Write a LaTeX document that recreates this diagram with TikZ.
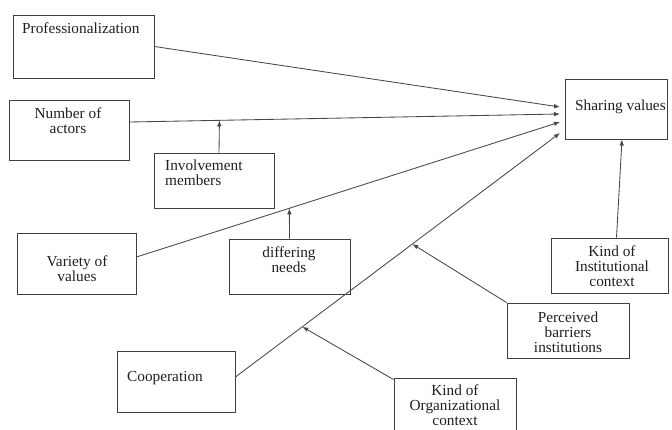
\documentclass[tikz,border=0pt]{standalone}
\usepackage{fontspec}
\setmainfont{Liberation Serif}
\usetikzlibrary{arrows.meta,fit}
\begin{document}
\begin{tikzpicture}[x=1pt,y=-1pt,
  box/.style={draw=black!75, line width=0.9pt, inner sep=0pt},
  txt/.style={text=black!88, font=\fontsize{15.3pt}{15pt}\selectfont, inner sep=0pt, align=center},
  arr/.style={draw=black!72, line width=0.85pt, -{Latex[length=6pt,width=4.5pt]}}]
\useasboundingbox (0,0) rectangle (672,429);
\clip (0,0) rectangle (672,429);

% boxes
\node[box, fit={(13,15) (154,78)}] (prof) {};
\node[box, fit={(9,100) (129,160)}] (num) {};
\node[box, fit={(154,153) (274,208)}] (inv) {};
\node[box, fit={(565,79) (667,139)}] (share) {};
\node[box, fit={(17,233) (136,294)}] (var) {};
\node[box, fit={(229,239) (350,294)}] (diff) {};
\node[box, fit={(117,351) (235,412)}] (coop) {};
\node[box, fit={(551,238) (668,293)}] (inst) {};
\node[box, fit={(507,303) (629,358)}] (perc) {};
\node[box, fit={(394,378) (516,440)}] (org) {};

% labels
\node[txt, anchor=west] (profT) at (22,28) {Professionalization};
\node[txt] (numT) at (68,121) {Number of\\actors};
\node[txt, anchor=west, align=left] (invT) at (165,173) {Involvement\\members};
\node[txt, anchor=west] (shareT) at (575,107) {Sharing values};
\node[txt] (varT) at (77,269) {Variety of\\values};
\node[txt] (diffT) at (289,260) {differing\\needs};
\node[txt, anchor=west] (coopT) at (127,378) {Cooperation};
\node[txt] (instT) at (612,266) {Kind of\\Institutional\\context};
\node[txt] (percT) at (568,332) {Perceived\\barriers\\institutions};
\node[txt] (orgT) at (455,405) {Kind of\\Organizational\\context};

% entry points at the left side of the outcome box
\coordinate (in1) at (560,107);
\coordinate (in2) at (560,114);
\coordinate (in3) at (560,122);
\coordinate (in4) at (560,133);

% direct effects
\draw[arr] (prof.east) -- (in1);
\draw[arr] ([yshift=8pt]num.east) -- coordinate[pos=0.209] (m1) (in2);
\draw[arr] ([yshift=6.5pt]var.east) -- coordinate[pos=0.361] (m2) (in3);
\draw[arr] ([yshift=4.5pt]coop.east) -- coordinate[pos=0.206] (m3) coordinate[pos=0.545] (m4) (in4);
\draw[arr] ([xshift=7pt]inst.north) -- ([xshift=6pt]share.south);

% moderating effects
\draw[arr] ([xshift=5pt]inv.north) -- (m1);
\draw[arr] (diff.north) -- (m2);
\draw[arr] ([yshift=-2pt]org.north west) -- (m3);
\draw[arr] (perc.north west) -- (m4);
\end{tikzpicture}
\end{document}
